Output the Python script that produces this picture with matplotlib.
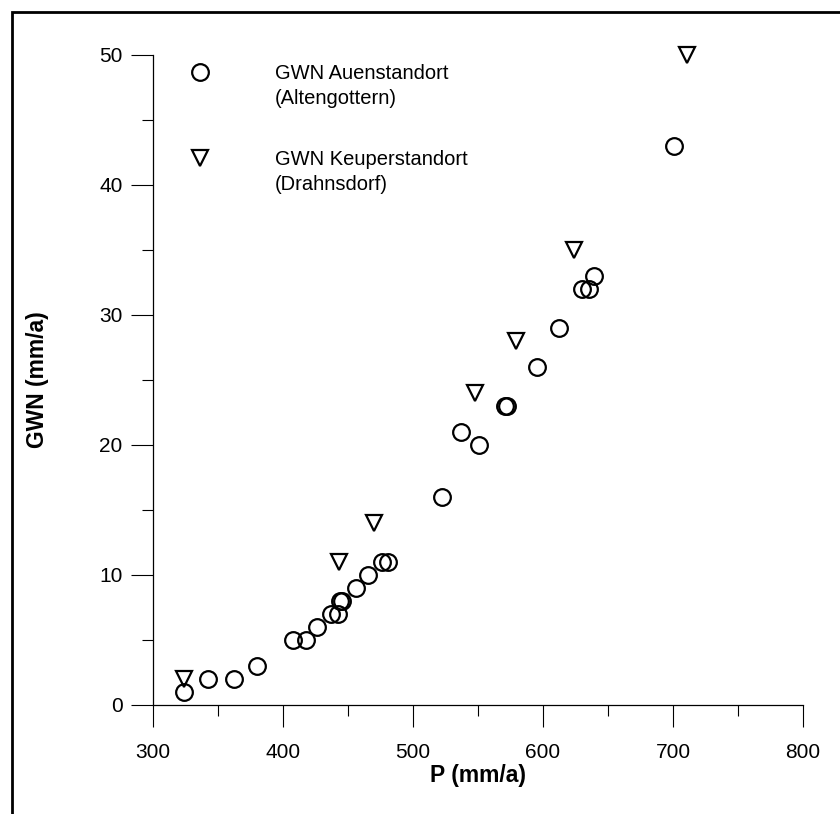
import matplotlib
matplotlib.use("Agg")
import matplotlib.pyplot as plt
from matplotlib.lines import Line2D
from matplotlib.patches import Rectangle
from matplotlib.ticker import MultipleLocator

plt.rcParams['font.family'] = ['Liberation Sans', 'DejaVu Sans']

# --------------
# Data
# --------------
# GWN Auenstandort (Altengottern)
p_auen = [324, 342, 362, 380, 408, 418, 426, 437, 442, 444, 445, 456, 465,
          476, 481, 522, 537, 551, 571, 572, 595, 612, 630, 635, 639, 701]
gwn_auen = [1, 2, 2, 3, 5, 5, 6, 7, 7, 8, 8, 9, 10,
            11, 11, 16, 21, 20, 23, 23, 26, 29, 32, 32, 33, 43]

# GWN Keuperstandort (Drahnsdorf)
p_keuper = [324, 443, 470, 548, 579, 624, 711]
gwn_keuper = [2, 11, 14, 24, 28, 35, 50]

labels_auen = ["GWN Auenstandort", "(Altengottern)"]
labels_keuper = ["GWN Keuperstandort", "(Drahnsdorf)"]

W, H = 840, 814
fig = plt.figure(figsize=(W / 100, H / 100), dpi=100)
ax = fig.add_axes([153 / W, 1 - 705 / H, 650 / W, 650 / H])

mk = dict(linestyle='none', markersize=12, markeredgewidth=1.6,
          markerfacecolor='none', markeredgecolor='black', clip_on=False)
l_auen, = ax.plot(p_auen, gwn_auen, marker='o', **mk)
l_keuper, = ax.plot(p_keuper, gwn_keuper, marker='v', **mk)

ax.set_xlim(300, 800)
ax.set_ylim(0, 50)
ax.xaxis.set_major_locator(MultipleLocator(100))
ax.xaxis.set_minor_locator(MultipleLocator(50))
ax.yaxis.set_major_locator(MultipleLocator(10))
ax.yaxis.set_minor_locator(MultipleLocator(5))

for s in ['top', 'right']:
    ax.spines[s].set_visible(False)
for s in ['left', 'bottom']:
    ax.spines[s].set_linewidth(0.9)

ax.tick_params(which='major', direction='out', length=16, width=0.8, labelsize=15)
ax.tick_params(which='minor', direction='out', length=8, width=0.8)
ax.tick_params(axis='x', which='major', pad=11)
ax.tick_params(axis='y', which='major', pad=6)

ax.set_xlabel("P (mm/a)", fontsize=16.5, fontweight='bold', labelpad=2)
ax.set_ylabel("GWN (mm/a)", fontsize=16.5, fontweight='bold', labelpad=36)

# --------------
# Legend: two blocks, marker next to the first line of each label
# --------------
blank = Line2D([], [], linestyle='none')
leg_kw = dict(loc='upper left', frameon=False, fontsize=14.5, handlelength=1.45,
              handletextpad=3.0, labelspacing=0.3, borderpad=0,
              borderaxespad=0, bbox_transform=fig.transFigure)
leg1 = ax.legend([l_auen, blank], labels_auen,
                 bbox_to_anchor=(185 / W, 1 - 64 / H), **leg_kw)
ax.add_artist(leg1)
ax.legend([l_keuper, blank], labels_keuper,
          bbox_to_anchor=(185 / W, 1 - 150 / H), **leg_kw)

# frame around the whole figure (open at right and bottom)
fig.add_artist(Rectangle((12 / W, -0.1), 2.0, 1.1 - 12 / H,
                         transform=fig.transFigure, fill=False,
                         linewidth=2, edgecolor='black'))

fig.savefig("out.png", dpi=100)
